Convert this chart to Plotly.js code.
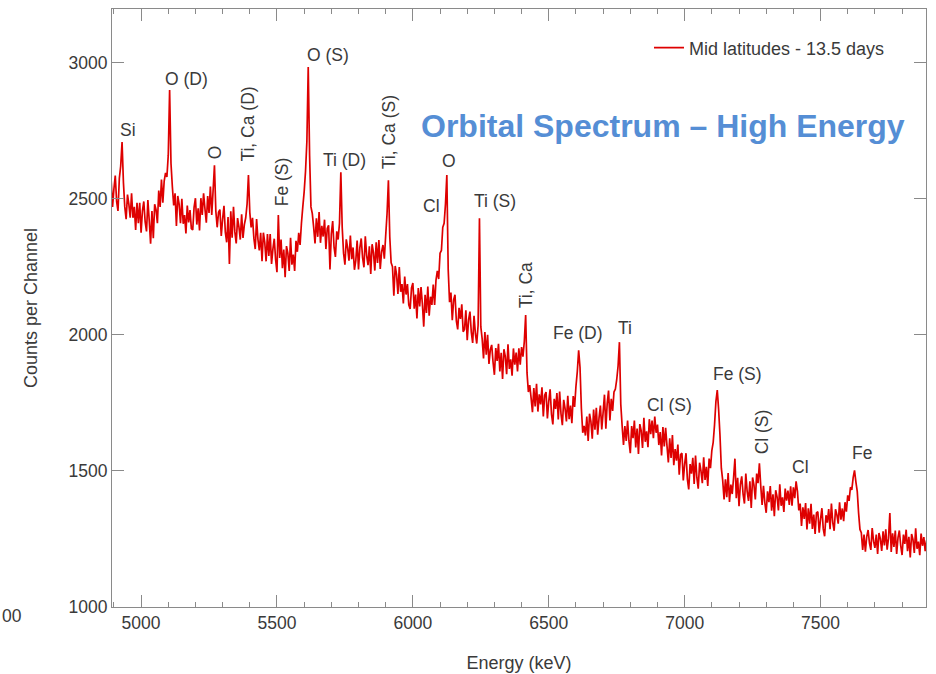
<!DOCTYPE html>
<html>
<head>
<meta charset="utf-8">
<script src="https://cdn.plot.ly/plotly-3.0.1.min.js"></script>
<style>
  html, body { margin: 0; padding: 0; background: #ffffff; }
  #chart { width: 936px; height: 674px; }
</style>
</head>
<body>
<div id="chart"></div>
<script>
// Orbital gamma-ray spectrum, high-energy region (mid latitudes, 13.5 days)
const energyStart = 4890;   // keV of first channel
const energyStep = 5;       // keV per channel

// Counts per channel, one row per 100 keV
const counts = [
  2565,2470,2535,2585,2490,2455,2575,2620,2708,2560,2470,2425,2515,2480,2430,2520,2430,2470,2385,2485,
  2410,2485,2375,2455,2490,2415,2380,2495,2420,2335,2455,2355,2480,2460,2410,2530,2470,2570,2485,2565,
  2595,2580,2660,2899,2630,2545,2475,2520,2400,2510,2480,2410,2500,2408,2440,2372,2475,2413,2458,2390,
  2385,2468,2502,2405,2465,2383,2502,2440,2520,2463,2412,2510,2448,2545,2440,2530,2623,2455,2395,2450,
  2460,2363,2426,2474,2377,2340,2433,2260,2454,2357,2470,2378,2336,2429,2397,2350,2443,2356,2405,2430,
  2480,2587,2450,2395,2430,2355,2315,2425,2350,2310,2375,2270,2375,2340,2270,2370,2290,2370,2260,2315,
  2353,2276,2230,2440,2282,2350,2245,2313,2212,2326,2300,2235,2356,2258,2295,2235,2345,2305,2375,2330,
  2410,2470,2525,2600,2710,2984,2660,2470,2445,2395,2336,2428,2360,2451,2338,2400,2361,2423,2315,2391,
  2402,2240,2370,2418,2322,2286,2380,2350,2410,2597,2395,2300,2258,2351,2319,2272,2365,2278,2321,2239,
  2272,2346,2240,2320,2354,2283,2248,2362,2291,2256,2325,2224,2333,2302,2236,2340,2264,2348,2242,2305,
  2330,2280,2365,2445,2568,2360,2265,2250,2144,2253,2221,2150,2249,2158,2186,2115,2214,2148,2186,2110,
  2095,2172,2190,2096,2148,2060,2172,2104,2175,2113,2030,2147,2080,2177,2070,2140,2110,2185,2110,2200,
  2235,2205,2300,2310,2395,2410,2480,2587,2240,2120,2155,2054,2128,2147,2051,2020,2099,2058,2112,2011,
  2020,2090,1980,2055,2085,2010,1970,2070,2005,1968,2035,2428,2030,1985,1913,2010,1927,2000,1893,1945,
  1963,1900,1853,1951,1904,1967,1865,1934,1838,1947,1921,1855,1965,1875,1910,1850,1950,1890,1935,1865,
  1950,1890,1955,1920,1975,2073,1860,1790,1815,1768,1716,1804,1737,1820,1718,1781,1744,1807,1700,1778,
  1790,1693,1756,1800,1708,1671,1765,1728,1786,1689,1792,1710,1668,1761,1729,1682,1776,1690,1740,1675,
  1775,1735,1810,1865,1943,1880,1730,1640,1665,1630,1700,1610,1710,1682,1618,1725,1651,1732,1633,1695,
  1740,1652,1715,1780,1655,1747,1795,1685,1765,1720,1790,1800,1835,1885,1973,1745,1665,1595,1665,1610,
  1685,1610,1565,1665,1620,1685,1586,1656,1562,1672,1648,1584,1695,1607,1645,1587,1690,1635,1685,1620,
  1700,1640,1670,1595,1643,1557,1661,1590,1658,1592,1531,1620,1548,1632,1521,1580,1538,1597,1486,1560,
  1565,1465,1525,1565,1470,1432,1525,1490,1548,1452,1556,1475,1435,1530,1500,1455,1550,1467,1515,1445,
  1545,1510,1575,1605,1670,1755,1797,1725,1630,1510,1465,1395,1469,1403,1492,1386,1450,1415,1475,1545,
  1400,1475,1370,1450,1480,1415,1380,1490,1425,1390,1462,1364,1476,1448,1395,1490,1455,1528,1445,1375,
  1445,1383,1346,1425,1385,1444,1354,1414,1334,1429,1405,1355,1451,1372,1403,1349,1435,1391,1428,1375,
  1443,1372,1440,1400,1462,1425,1355,1380,1298,1366,1324,1382,1285,1363,1306,1379,1287,1340,1268,1346,
  1350,1273,1323,1363,1287,1260,1337,1310,1360,1286,1380,1310,1280,1359,1339,1306,1385,1321,1362,1315,
  1385,1350,1410,1390,1440,1430,1475,1502,1460,1425,1345,1285,1273,1210,1266,1203,1259,1283,1235,1210,
  1290,1242,1217,1266,1195,1272,1251,1206,1278,1226,1285,1211,1252,1345,1202,1271,1221,1281,1195,1255,
  1281,1225,1191,1266,1232,1284,1205,1258,1182,1268,1248,1199,1289,1214,1240,1190,1270,1225,1257,1205,1245
];

const seriesName = "Mid latitudes - 13.5 days";
const chartTitle = "Orbital Spectrum \u2013 High Energy";
const xTitle = "Energy (keV)";
const yTitle = "Counts per Channel";

// Line identifications
const peakLabels = ["Si", "O (D)", "O", "Ti, Ca (D)", "Fe (S)", "O (S)", "Ti (D)", "Ti, Ca (S)",
  "Cl", "O", "Ti (S)", "Ti, Ca", "Fe (D)", "Ti", "Cl (S)", "Fe (S)", "Cl (S)", "Cl", "Fe"];

// Placement of each identification: [energy, counts, text angle]
const labelPlacement = [
  [4952, 2754, 0], [5166, 2940, 0], [5272, 2671, -90], [5395, 2774, -90], [5519, 2561, -90],
  [5688, 3028, 0], [5750, 2642, 0], [5912, 2744, -90], [6067, 2472, 0], [6133, 2638, 0],
  [6302, 2491, 0], [6416, 2182, -90], [6608, 2005, 0], [6781, 2024, 0], [6946, 1741, 0],
  [7193, 1855, 0], [7285, 1642, -90], [7428, 1514, 0], [7653, 1565, 0]
];

const FONT = '"Liberation Sans", Arial, Helvetica, sans-serif';
const TEXT = '#3a3a3a';
const AXIS = '#8a8a8a';
const LABEL_SIZE = 17.5;

const annotations = peakLabels.map((t, i) => ({
  text: t, x: labelPlacement[i][0], y: labelPlacement[i][1],
  xref: 'x', yref: 'y', showarrow: false, textangle: labelPlacement[i][2],
  xanchor: 'center', yanchor: 'middle',
  font: { family: FONT, size: LABEL_SIZE, color: TEXT }
}));

annotations.push({
  text: chartTitle, xref: 'paper', yref: 'paper', x: 0.677, y: 0.805,
  xanchor: 'center', yanchor: 'middle', showarrow: false,
  font: { family: FONT, size: 32, color: '#558ED5', weight: 'bold' }
});

// stray tick label at the left edge of the panel
annotations.push({
  text: "00", xref: 'paper', yref: 'paper', x: -0.1376, y: -0.015,
  xanchor: 'left', yanchor: 'middle', showarrow: false,
  font: { family: FONT, size: LABEL_SIZE, color: TEXT }
});

const trace = {
  type: 'scatter', mode: 'lines', name: seriesName,
  x0: energyStart, dx: energyStep, y: counts,
  line: { color: 'rgb(222,0,0)', width: 1.7, simplify: false },
  hoverinfo: 'x+y'
};

const layout = {
  width: 936, height: 674,
  margin: { l: 112, r: 10, t: 9, b: 67 },
  paper_bgcolor: '#ffffff', plot_bgcolor: '#ffffff',
  font: { family: FONT, size: LABEL_SIZE, color: TEXT },
  showlegend: true,
  legend: {
    x: 0.6597, y: 0.935, xanchor: 'left', yanchor: 'middle',
    bgcolor: 'rgba(0,0,0,0)', font: { family: FONT, size: 18, color: TEXT }
  },
  xaxis: {
    range: [4893, 7888], tick0: 5000, dtick: 500,
    ticks: 'inside', ticklen: 12, tickcolor: AXIS, tickwidth: 1,
    minor: { ticks: 'inside', ticklen: 5, dtick: 100, tickcolor: AXIS, tickwidth: 1 },
    showline: true, linecolor: AXIS, linewidth: 1, mirror: 'ticks',
    showgrid: false, zeroline: false, ticklabelstandoff: 0,
    tickfont: { family: FONT, size: LABEL_SIZE, color: TEXT },
    title: { text: xTitle, standoff: 24, font: { family: FONT, size: 18, color: TEXT } }
  },
  yaxis: {
    range: [1000, 3197], tick0: 1000, dtick: 500,
    ticks: 'inside', ticklen: 12, tickcolor: AXIS, tickwidth: 1,
    showline: true, linecolor: AXIS, linewidth: 1, mirror: 'ticks',
    showgrid: false, zeroline: false,
    tickfont: { family: FONT, size: LABEL_SIZE, color: TEXT },
    title: { text: yTitle, standoff: 26, font: { family: FONT, size: 18, color: TEXT } }
  },
  annotations: annotations
};

Plotly.newPlot('chart', [trace], layout, { displayModeBar: false, staticPlot: true });
</script>
</body>
</html>
